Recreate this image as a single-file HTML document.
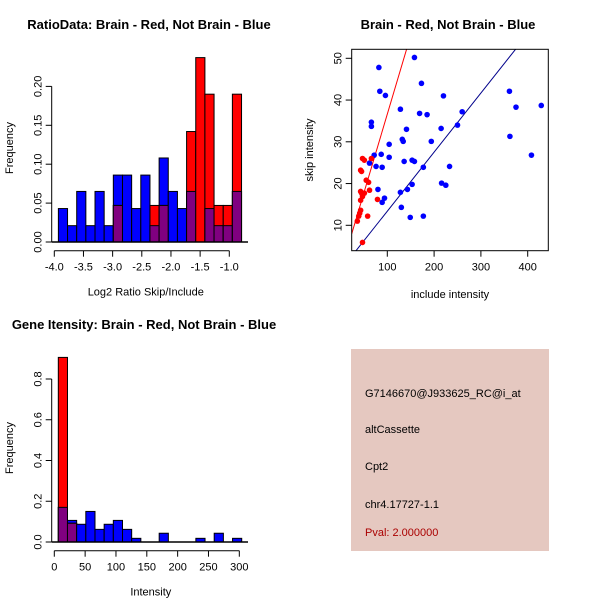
<!DOCTYPE html>
<html><head><meta charset="utf-8"><style>
html,body{margin:0;padding:0;background:#fff;}
svg{display:block;font-family:"Liberation Sans",sans-serif;}
</style></head><body>
<svg id="root" width="600" height="600" viewBox="0 0 600 600">
<rect width="600" height="600" fill="#fff"/>
<g id="p1"></g>
<g id="p2"></g>
<g id="p3"></g>
<g id="p4">
<rect x="351" y="349" width="198" height="202" fill="#e5c8c0"/>
<text x="365" y="397" font-size="11" fill="#000">G7146670@J933625_RC@i_at</text>
<text x="365" y="433" font-size="11" fill="#000">altCassette</text>
<text x="365" y="470" font-size="11" fill="#000">Cpt2</text>
<text x="365" y="508" font-size="11" fill="#000">chr4.17727-1.1</text>
<text x="365" y="536" font-size="11" fill="#aa0000">Pval: 2.000000</text>
</g>
</svg>
<script>
// ---- Panel 1 data ----
const ratioBinStart = -3.93;
const ratioBinWidth = 0.157;
const ratioBlue = [0.043,0.021,0.065,0.021,0.065,0.021,0.086,0.086,0.043,0.086,0.021,0.108,0.065,0.043,0.065,0,0.043,0.021,0.021,0.065];
const ratioRed  = [0,0,0,0,0,0,0.047,0,0,0,0.047,0.047,0,0,0.142,0.237,0.19,0.047,0.047,0.19];
const ratioXTicks = [-4.0,-3.5,-3.0,-2.5,-2.0,-1.5,-1.0];
const ratioXLabels = ["-4.0","-3.5","-3.0","-2.5","-2.0","-1.5","-1.0"];
const ratioYTicks = [0,0.05,0.10,0.15,0.20];
const ratioYLabels = ["0.00","0.05","0.10","0.15","0.20"];
// ---- Panel 2 data ----
const blueX = [158,82,84,96,173,220,361,375,429,128,169,185,260,66,66,141,215,250,132,134,194,362,104,72,87,104,136,153,158,408,62,76,89,177,233,80,143,128,153,216,225,94,89,130,149,177];
const blueY = [50.2,47.8,42.1,41.1,44.0,41.0,42.1,38.3,38.7,37.8,36.8,36.5,37.2,34.7,33.7,33.0,33.2,34.0,30.6,30.1,30.1,31.3,29.4,26.8,27.0,26.3,25.3,25.6,25.3,26.8,24.9,24.1,23.9,23.9,24.1,18.6,18.6,17.9,19.8,20.1,19.6,16.5,15.5,14.3,11.9,12.2];
const redX = [47,51,66,43,45,55,60,62,45,51,47,43,79,43,41,39,58,36,47,43];
const redY = [26.0,25.6,26.0,23.2,22.9,20.8,20.3,18.4,17.7,17.7,16.9,16.0,16.2,13.6,12.9,12.2,12.2,11.0,5.9,18.1];
const redLine = [-1.07, 0.377];   // intercept, slope
const blueLine = [-0.77, 0.1415];
const scatXTicks = [100,200,300,400];
const scatYTicks = [10,20,30,40,50];
// ---- Panel 3 data ----
const intBinStart = 6.5;
const intBinWidth = 14.87;
const intBlue = [0.17,0.106,0.087,0.15,0.062,0.087,0.106,0.062,0.018,0,0,0.043,0,0,0,0.018,0,0.043,0,0.018];
const intRed  = [0.906,0.092,0,0,0,0,0,0,0,0,0,0,0,0,0,0,0,0,0,0];
const intXTicks = [0,50,100,150,200,250,300];
const intYTicks = [0,0.2,0.4,0.6,0.8];
const intYLabels = ["0.0","0.2","0.4","0.6","0.8"];

const NS = "http://www.w3.org/2000/svg";
function mk(parent, tag, attrs, text){
  const e = document.createElementNS(NS, tag);
  for (const k in attrs) e.setAttribute(k, attrs[k]);
  if (text !== undefined) e.textContent = text;
  parent.appendChild(e);
  return e;
}

function histogram(g, opt){
  const {sx, sy, start, width, blue, red, xTicks, xLabels, yTicks, yLabels, title, xTitle, titleX, x0, x1, tickY, y0} = opt;
  const t = mk(g,'text',{x:titleX,y:opt.titleY,'font-size':13,'font-weight':'bold','text-anchor':'middle'},title);
  
  
  for (let i=0;i<blue.length;i++){
    const a = sx(start+i*width), b = sx(start+(i+1)*width);
    const ov = Math.min(blue[i], red[i]);
    if (blue[i]>0){
      const r = mk(g,'rect',{x:a,y:sy(blue[i]),width:b-a,height:sy(0)-sy(blue[i]),fill:'#0000ff',stroke:'#000','stroke-width':1});
      
      
    }
    if (red[i]>0){
      const r = mk(g,'rect',{x:a,y:sy(red[i]),width:b-a,height:sy(0)-sy(red[i]),fill:'#ff0000',stroke:'#000','stroke-width':1});
      
      
    }
    if (ov>0){
      const r = mk(g,'rect',{x:a,y:sy(ov),width:b-a,height:sy(0)-sy(ov),fill:'#800080',stroke:'#000','stroke-width':1});
      
      
    }
  }
  const bl = mk(g,'line',{x1:x0,x2:x1,y1:sy(0),y2:sy(0),stroke:'#000','stroke-width':1.5});
  
  
  const xa = mk(g,'g',{});
  
  
  mk(xa,'line',{x1:sx(xTicks[0]),x2:sx(xTicks[xTicks.length-1]),y1:tickY,y2:tickY,stroke:'#000'});
  xTicks.forEach((v,i)=>{
    mk(xa,'line',{x1:sx(v),x2:sx(v),y1:tickY,y2:tickY+6,stroke:'#000'});
    const l = mk(xa,'text',{x:sx(v),y:tickY+20,'font-size':11,'text-anchor':'middle'},xLabels[i]);
    
    
  });
  const xt = mk(g,'text',{x:(sx(xTicks[0])+sx(xTicks[xTicks.length-1]))/2+4,y:tickY+45,'font-size':11,'text-anchor':'middle'},xTitle);
  
  
  const ya = mk(g,'g',{});
  
  
  const ax = 51.7;
  mk(ya,'line',{x1:ax,x2:ax,y1:sy(yTicks[0]),y2:sy(yTicks[yTicks.length-1]),stroke:'#000'});
  yTicks.forEach((v,i)=>{
    mk(ya,'line',{x1:ax-6,x2:ax,y1:sy(v),y2:sy(v),stroke:'#000'});
    const l = mk(ya,'text',{x:0,y:0,'font-size':11,'text-anchor':'middle',transform:`translate(${ax-10},${sy(v)}) rotate(-90)`},yLabels[i]);
    
    
  });
  const yt = mk(g,'text',{x:0,y:0,'font-size':11,'text-anchor':'middle',transform:`translate(13,${y0}) rotate(-90)`},'Frequency');
  
  
}

histogram(document.getElementById('p1'),{
  sx:v=>54.3+(v+4)*58.33, sy:v=>242-v*778,
  start:ratioBinStart,width:ratioBinWidth,blue:ratioBlue,red:ratioRed,
  xTicks:ratioXTicks,xLabels:ratioXLabels,yTicks:ratioYTicks,yLabels:ratioYLabels,
  title:'RatioData: Brain - Red, Not Brain - Blue',titleX:149,titleY:29,
  xTitle:'Log2 Ratio Skip/Include',x0:51.7,x1:248,tickY:250.7,y0:148
});
histogram(document.getElementById('p3'),{
  sx:v=>54.3+v*0.6167, sy:v=>542-v*203.75,
  start:intBinStart,width:intBinWidth,blue:intBlue,red:intRed,
  xTicks:intXTicks,xLabels:intXTicks.map(String),yTicks:intYTicks,yLabels:intYLabels,
  title:'Gene Itensity: Brain - Red, Not Brain - Blue',titleX:144,titleY:329,
  xTitle:'Intensity',x0:51.7,x1:248,tickY:550.7,y0:448
});

(function(){
  const g = document.getElementById('p2');
  const sx = v=>387.3+(v-100)*0.468, sy = v=>58.3+(50-v)*4.175;
  const L=351.7,R=548.3,T=49.3,B=250.7;
  const t = mk(g,'text',{x:448,y:29,'font-size':13,'font-weight':'bold','text-anchor':'middle'},'Brain - Red, Not Brain - Blue');
  
  
  mk(g,'clipPath',{id:'clip2'});
  mk(document.getElementById('clip2'),'rect',{x:L,y:T,width:R-L,height:B-T});
  const xmin=(L-387.3)/0.468+100, xmax=(R-387.3)/0.468+100;
  [[redLine,'#ff0000','red-fit-line'],[blueLine,'#00008b','blue-fit-line']].forEach(([ln,c,n])=>{
    const l = mk(g,'line',{x1:sx(xmin),y1:sy(ln[0]+ln[1]*xmin),x2:sx(xmax),y2:sy(ln[0]+ln[1]*xmax),stroke:c,'stroke-width':1,'clip-path':'url(#clip2)'});
    
    
  });
  blueX.forEach((x,i)=>{
    const c = mk(g,'circle',{cx:sx(x),cy:sy(blueY[i]),r:2.8,fill:'#0000ff'});
    
    
  });
  redX.forEach((x,i)=>{
    const c = mk(g,'circle',{cx:sx(x),cy:sy(redY[i]),r:2.8,fill:'#ff0000'});
    
    
  });
  const box = mk(g,'rect',{x:L,y:T,width:R-L,height:B-T,fill:'none',stroke:'#000'});
  
  
  scatXTicks.forEach(v=>{
    mk(g,'line',{x1:sx(v),x2:sx(v),y1:B,y2:B+6,stroke:'#000'});
    const l = mk(g,'text',{x:sx(v),y:B+20,'font-size':11,'text-anchor':'middle'},String(v));
    
    
  });
  scatYTicks.forEach(v=>{
    mk(g,'line',{x1:L-6,x2:L,y1:sy(v),y2:sy(v),stroke:'#000'});
    const l = mk(g,'text',{x:0,y:0,'font-size':11,'text-anchor':'middle',transform:`translate(${L-10},${sy(v)}) rotate(-90)`},String(v));
    
    
  });
  const xt = mk(g,'text',{x:450,y:298,'font-size':11,'text-anchor':'middle'},'include intensity');
  
  
  const yt = mk(g,'text',{x:0,y:0,'font-size':11,'text-anchor':'middle',transform:'translate(313,150) rotate(-90)'},'skip intensity');
  
  
})();
</script>
</body></html>
